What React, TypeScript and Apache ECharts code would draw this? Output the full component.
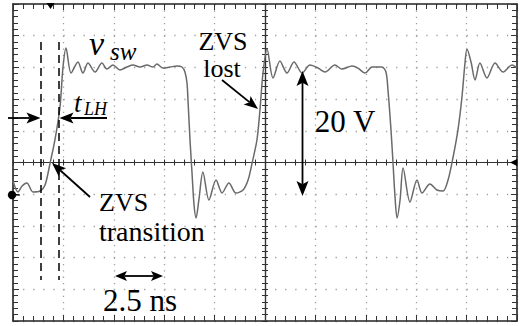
import React, { useEffect, useRef } from "react";
import * as echarts from "echarts";

// Oscilloscope trace of v_sw: time in ns, voltage in V (ground marker = 0 V)
const TIME_NS = [
  0.0, 0.25, 0.45, 0.69, 0.99, 1.34, 1.59, 1.84, 2.08, 2.33, 2.48, 2.63, 2.88,
  3.22, 3.47, 3.72, 4.07, 4.41, 4.66, 4.96, 5.31, 5.65, 5.95, 6.3, 6.65, 6.94,
  7.14, 7.44, 7.79, 8.13, 8.38, 8.53, 8.63, 8.68, 8.78, 8.88, 8.98, 9.08, 9.22,
  9.42, 9.72, 10.07, 10.37, 10.71, 11.06, 11.41, 11.66, 11.86, 12.1, 12.25,
  12.4, 12.6, 12.9, 13.24, 13.59, 13.94, 14.34, 14.73, 15.13, 15.48, 15.97,
  16.32, 16.82, 17.11, 17.46, 17.81, 18.3, 18.5, 18.6, 18.75, 18.85, 18.95,
  19.05, 19.2, 19.35, 19.69, 20.04, 20.29, 20.68, 21.03, 21.33, 21.58, 21.83,
  22.07, 22.27, 22.42, 22.52, 22.72, 22.92, 23.16, 23.51, 23.91, 24.31, 24.75,
  25.0,
];
const VOLT_V = [
  2.08, 0.35, 1.29, 1.77, 0.35, 0.5, 1.45, 4.92, 8.55, 13.75, 20.06, 23.05,
  19.1, 20.85, 19.11, 20.69, 19.27, 20.69, 19.74, 20.37, 19.59, 20.06, 20.37,
  20.06, 20.37, 20.06, 20.53, 19.9, 20.06, 20.22, 20.06, 19.27, 17.54, 14.86,
  8.55, 3.34, -1.7, -3.75, -0.91, 3.5, -0.91, 2.24, 0.19, 1.77, 0.19, 0.66,
  2.24, 4.92, 8.55, 13.28, 19.11, 22.9, 18.33, 21.01, 19.11, 20.85, 19.11,
  20.37, 19.9, 19.27, 20.37, 19.74, 20.22, 19.9, 19.11, 20.06, 20.06, 19.27,
  16.43, 10.12, 4.92, -0.44, -3.75, -0.91, 4.13, -1.23, 2.24, 0.19, 1.61, 0.66,
  0.5, 2.24, 5.87, 10.12, 15.33, 20.69, 22.9, 20.85, 18.01, 20.69, 18.33,
  20.69, 19.27, 20.37, 19.9,
];

// Scope settings: 2.5 ns/div, 5 V/div, 10 x 10 divisions
const T_MIN = 0;
const T_MAX = 25;
const T_DIV = 2.5;
const V_MIN = -20;
const V_MAX = 30;
const V_DIV = 5;

const LABELS = {
  vsw: "v",
  vswSub: "sw",
  tlh: "t",
  tlhSub: "LH",
  zvs: "ZVS",
  lost: "lost",
  transition: "transition",
  volts: "20 V",
  ns: "2.5 ns",
};

const FONT = "'Liberation Serif', serif";

function head(x2: number, y2: number, ux: number, uy: number, len: number, w: number) {
  const px = -uy;
  const py = ux;
  const bx = x2 - ux * len;
  const by = y2 - uy * len;
  const nx = x2 - ux * len * 0.78;
  const ny = y2 - uy * len * 0.78;
  return {
    el: {
      type: "polygon",
      shape: {
        points: [
          [x2, y2],
          [bx + (px * w) / 2, by + (py * w) / 2],
          [nx, ny],
          [bx - (px * w) / 2, by - (py * w) / 2],
        ],
      },
      style: { fill: "#000" },
      z: 20,
    },
    nx,
    ny,
  };
}

function arrow(x1: number, y1: number, x2: number, y2: number, len = 14, w = 11, both = false) {
  const dx = x2 - x1;
  const dy = y2 - y1;
  const L = Math.hypot(dx, dy);
  const ux = dx / L;
  const uy = dy / L;
  const h2 = head(x2, y2, ux, uy, len, w);
  const els: any[] = [h2.el];
  let sx = x1;
  let sy = y1;
  if (both) {
    const h1 = head(x1, y1, -ux, -uy, len, w);
    els.push(h1.el);
    sx = h1.nx;
    sy = h1.ny;
  }
  els.push({
    type: "line",
    shape: { x1: sx, y1: sy, x2: h2.nx, y2: h2.ny },
    style: { stroke: "#000", lineWidth: 1.8 },
    z: 20,
  });
  return els;
}

function txt(
  text: string,
  x: number,
  y: number,
  size: number,
  align = "center",
  italic = false
) {
  return {
    type: "text",
    x,
    y,
    z: 20,
    style: {
      text,
      font: `${italic ? "italic " : ""}${size}px ${FONT}`,
      fill: "#000",
      align,
      verticalAlign: "middle",
    },
  };
}

export default function App() {
  const ref = useRef<HTMLDivElement>(null);

  useEffect(() => {
    if (!ref.current) return;
    const chart = echarts.init(ref.current, undefined, { renderer: "svg" });
    const data = TIME_NS.map((t, i) => [t, VOLT_V[i]]);

    const frameLine = { show: true, onZero: false, lineStyle: { color: "#222", width: 1.6 } };
    const centerLine = { show: true, onZero: false, lineStyle: { color: "#333", width: 1.2 } };
    const tickStyle = { color: "#333", width: 1 };

    const xBase = {
      type: "value",
      min: T_MIN,
      max: T_MAX,
      interval: T_DIV,
      axisLabel: { show: false },
      splitLine: { show: false },
    };
    const yBase = {
      type: "value",
      min: V_MIN,
      max: V_MAX,
      interval: V_DIV,
      axisLabel: { show: false },
      splitLine: { show: false },
    };

    const graphic: any[] = [
      // cursor lines
      {
        type: "line",
        shape: { x1: 41, y1: 42, x2: 41, y2: 280 },
        style: { stroke: "#000", lineWidth: 1.5, lineDash: [8, 5] },
        z: 20,
      },
      {
        type: "line",
        shape: { x1: 59, y1: 42, x2: 59, y2: 280 },
        style: { stroke: "#000", lineWidth: 1.5, lineDash: [8, 5] },
        z: 20,
      },
      ...arrow(8, 118, 40.5, 118, 14, 11),
      ...arrow(107, 118, 59.5, 118, 14, 11),
      ...arrow(222, 80, 258, 109, 14, 11),
      ...arrow(90, 197, 52, 163, 14, 11),
      ...arrow(302.5, 71, 302.5, 196, 15, 12, true),
      ...arrow(115, 276, 163, 276, 12, 10, true),
      txt(LABELS.vsw, 89, 43, 34, "left", true),
      txt(LABELS.vswSub, 110, 51, 25, "left", true),
      txt(LABELS.tlh, 74, 103, 27, "left", true),
      txt(LABELS.tlhSub, 84, 108.5, 18, "left", true),
      txt(LABELS.zvs, 223, 41, 26),
      txt(LABELS.lost, 222, 68, 26),
      txt(LABELS.volts, 345, 121, 31),
      txt(LABELS.zvs, 99, 202, 26, "left"),
      txt(LABELS.transition, 99, 231, 28, "left"),
      txt(LABELS.ns, 140, 300, 31),
      // channel ground marker
      { type: "circle", shape: { cx: 12, cy: 195, r: 4.2 }, style: { fill: "#000" }, z: 21 },
      {
        type: "line",
        shape: { x1: 12, y1: 195, x2: 20, y2: 195 },
        style: { stroke: "#000", lineWidth: 1.2 },
        z: 21,
      },
      // trigger position marker (top)
      {
        type: "polygon",
        shape: { points: [[46.5, 3], [54.5, 3], [50.5, 9]] },
        style: { fill: "#000" },
        z: 21,
      },
      // trigger level marker (right)
      {
        type: "polygon",
        shape: { points: [[510, 162.5], [517, 159], [517, 166]] },
        style: { fill: "#000" },
        z: 21,
      },
    ];

    chart.setOption({
      animation: false,
      backgroundColor: "#fff",
      grid: { left: 13, top: 4, width: 504, height: 317, show: false },
      xAxis: [
        {
          ...xBase,
          position: "bottom",
          axisLine: frameLine,
          axisTick: { show: true, inside: true, length: 6, lineStyle: tickStyle },
          minorTick: { show: true, splitNumber: 5, length: 5, lineStyle: tickStyle },
          splitLine: {
            show: true,
            lineStyle: { color: "#a0a0a0", width: 1.3, type: [1.3, 5.04] },
          },
        },
        {
          ...xBase,
          position: "top",
          axisLine: frameLine,
          axisTick: { show: true, inside: true, length: 6, lineStyle: tickStyle },
          minorTick: { show: true, splitNumber: 5, length: 5, lineStyle: tickStyle },
        },
        {
          ...xBase,
          position: "bottom",
          offset: -158.5,
          axisLine: centerLine,
          axisTick: { show: true, inside: true, length: 3, lineStyle: tickStyle },
          minorTick: { show: true, splitNumber: 5, length: 3, lineStyle: tickStyle },
        },
        {
          ...xBase,
          position: "bottom",
          offset: -158.5,
          axisLine: centerLine,
          axisTick: { show: true, inside: false, length: 3, lineStyle: tickStyle },
          minorTick: { show: true, splitNumber: 5, length: 3, lineStyle: tickStyle },
        },
      ],
      yAxis: [
        {
          ...yBase,
          position: "left",
          axisLine: frameLine,
          axisTick: { show: true, inside: true, length: 6, lineStyle: tickStyle },
          minorTick: { show: true, splitNumber: 5, length: 5, lineStyle: tickStyle },
          splitLine: {
            show: true,
            lineStyle: { color: "#a0a0a0", width: 1.3, type: [1.3, 8.78] },
          },
        },
        {
          ...yBase,
          position: "right",
          axisLine: frameLine,
          axisTick: { show: true, inside: true, length: 6, lineStyle: tickStyle },
          minorTick: { show: true, splitNumber: 5, length: 5, lineStyle: tickStyle },
        },
        {
          ...yBase,
          position: "left",
          offset: -252,
          axisLine: centerLine,
          axisTick: { show: true, inside: true, length: 3, lineStyle: tickStyle },
          minorTick: { show: true, splitNumber: 5, length: 3, lineStyle: tickStyle },
        },
        {
          ...yBase,
          position: "left",
          offset: -252,
          axisLine: centerLine,
          axisTick: { show: true, inside: false, length: 3, lineStyle: tickStyle },
          minorTick: { show: true, splitNumber: 5, length: 3, lineStyle: tickStyle },
        },
      ],
      series: [
        {
          type: "line",
          xAxisIndex: 0,
          yAxisIndex: 0,
          data,
          showSymbol: false,
          smooth: 0.3,
          lineStyle: { color: "#6a6a6a", width: 1.5 },
          z: 10,
        },
      ],
      graphic,
    });

    return () => chart.dispose();
  }, []);

  return (
    <div
      ref={ref}
      style={{
        position: "fixed",
        left: 0,
        top: 0,
        width: 522,
        height: 326,
        background: "#fff",
      }}
    />
  );
}
